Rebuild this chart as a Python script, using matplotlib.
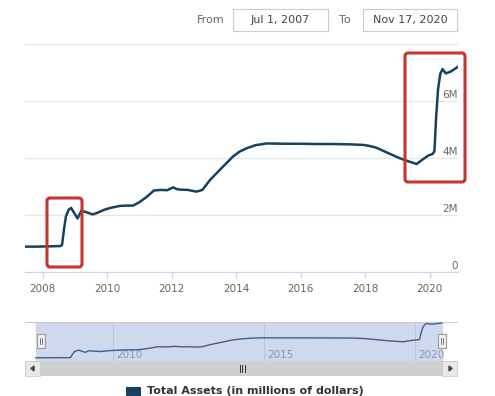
import matplotlib
matplotlib.use("Agg")
import matplotlib.pyplot as plt
from matplotlib.patches import Rectangle, FancyBboxPatch

# ---- data (decimal year, total assets in millions of millions = "M") ----
years = [2007.45, 2007.80, 2008.20, 2008.55, 2008.60, 2008.66, 2008.72, 2008.80,
         2008.88, 2008.96, 2009.08, 2009.20, 2009.35, 2009.55, 2009.70, 2009.90,
         2010.10, 2010.40, 2010.60, 2010.80, 2011.00, 2011.23, 2011.45, 2011.65,
         2011.86, 2011.95, 2012.05, 2012.15, 2012.27, 2012.50, 2012.77, 2012.95,
         2013.19, 2013.55, 2013.90, 2014.10, 2014.32, 2014.60, 2014.95, 2015.50,
         2016.00, 2016.50, 2017.00, 2017.50, 2017.94, 2018.15, 2018.35, 2018.70,
         2019.08, 2019.35, 2019.60, 2019.75, 2019.95, 2020.10, 2020.15, 2020.20,
         2020.26, 2020.33, 2020.40, 2020.50, 2020.65, 2020.88]
assets = [0.89, 0.89, 0.90, 0.91, 0.95, 1.50, 1.95, 2.18,
          2.25, 2.10, 1.88, 2.15, 2.10, 2.02, 2.08, 2.18,
          2.25, 2.32, 2.33, 2.33, 2.45, 2.64, 2.86, 2.88,
          2.87, 2.92, 2.97, 2.91, 2.89, 2.88, 2.82, 2.88,
          3.23, 3.65, 4.05, 4.22, 4.34, 4.45, 4.51, 4.50,
          4.50, 4.49, 4.49, 4.48, 4.46, 4.42, 4.36, 4.18,
          3.99, 3.88, 3.79, 3.92, 4.08, 4.15, 4.25, 5.40,
          6.40, 6.95, 7.12, 6.97, 7.03, 7.20]
y_ticks = [0, 2, 4, 6]
y_tick_labels = ["0", "2M", "4M", "6M"]
x_ticks = [2008, 2010, 2012, 2014, 2016, 2018, 2020]
nav_ticks = [2010, 2015, 2020]
series_name = "Total Assets (in millions of dollars)"
from_date = "Jul 1, 2007"
to_date = "Nov 17, 2020"

W, H = 495, 396
LINE = "#17415f"
fig = plt.figure(figsize=(W / 100, H / 100), dpi=100)


def rect(x0, y0, x1, y1):
    return [x0 / W, 1 - y1 / H, (x1 - x0) / W, (y1 - y0) / H]


# ---- main chart ----
ax = fig.add_axes(rect(25, 44, 458, 272))
ax.plot(years, assets, color=LINE, lw=1.8, solid_joinstyle="round", zorder=3)
ax.set_xlim(2007.45, 2020.88)
ax.set_ylim(0, 8)
ax.set_yticks([0, 2, 4, 6, 8])
ax.yaxis.grid(True, color="#e6e6e6", lw=1)
ax.tick_params(axis="y", length=0, labelleft=False)
for s in ["top", "left", "right"]:
    ax.spines[s].set_visible(False)
ax.spines["bottom"].set_color("#ccd6eb")
ax.set_xticks(x_ticks)
ax.set_xticklabels([str(t) for t in x_ticks])
ax.tick_params(axis="x", colors="#ccd6eb", length=4, width=1, labelcolor="#666666",
               labelsize=7.5, pad=4.5)
for v, lab in zip(y_ticks, y_tick_labels):
    ax.annotate(lab, xy=(1, v), xycoords=("axes fraction", "data"),
                xytext=(0, 0.5), textcoords="offset points", ha="right", va="bottom",
                fontsize=7.5, color="#666666")

# ---- navigator ----
nav = fig.add_axes(rect(25, 322, 457, 361))
nav.set_xlim(2007.09, 2021.39)
nav.set_ylim(0.3, 7.38)
nav.axvspan(years[0], years[-1], color="#cfd9ee", zorder=0)
for t in nav_ticks:
    nav.axvline(t, color="#b9c4dc", lw=0.8, zorder=1)
    nav.text(t + 0.12, 0.45, str(t), fontsize=7.5, color="#8a98b0", va="bottom", ha="left")
nav.plot(years, assets, color="#3f5f8a", lw=1.0, zorder=3)
nav.set_xticks([])
nav.set_yticks([])
for s in ["left", "right", "bottom"]:
    nav.spines[s].set_visible(False)
nav.spines["top"].set_color("#cccccc")

# ---- overlay in pixel coordinates ----
ov = fig.add_axes([0, 0, 1, 1], zorder=10)
ov.set_xlim(0, W)
ov.set_ylim(H, 0)
ov.axis("off")
ov.patch.set_alpha(0)

# header
ov.text(197, 20, "From", fontsize=8, color="#666666", va="center", ha="left")
ov.add_patch(Rectangle((233, 9), 95, 22, facecolor="white", edgecolor="#cccccc", lw=0.8))
ov.text(280.5, 20, from_date, fontsize=8, color="#444444", va="center", ha="center")
ov.text(339, 20, "To", fontsize=8, color="#666666", va="center", ha="left")
ov.add_patch(Rectangle((363, 9), 94, 22, facecolor="white", edgecolor="#cccccc", lw=0.8))
ov.text(410, 20, to_date, fontsize=8, color="#444444", va="center", ha="center")

# red highlight boxes
for (x0, y0, x1, y1) in [(47, 198, 82, 267), (405, 53, 465, 182)]:
    ov.add_patch(FancyBboxPatch((x0, y0), x1 - x0, y1 - y0,
                                boxstyle="round,pad=0,rounding_size=3",
                                facecolor="none", edgecolor="#c8352e", lw=2.2))

# navigator handles
for hx in (36.5, 438):
    ov.add_patch(Rectangle((hx, 334), 8, 14, facecolor="#f2f2f2", edgecolor="#999999", lw=0.8))
    ov.plot([hx + 3, hx + 3], [338, 344], color="#666666", lw=0.6)
    ov.plot([hx + 5, hx + 5], [338, 344], color="#666666", lw=0.6)

# scrollbar
ov.add_patch(Rectangle((25, 361), 432, 15, facecolor="#cfcfcf", edgecolor="none"))
ov.add_patch(Rectangle((25, 361), 15, 15, facecolor="#e8e8e8", edgecolor="#cccccc", lw=0.6))
ov.add_patch(Rectangle((442, 361), 15, 15, facecolor="#e8e8e8", edgecolor="#cccccc", lw=0.6))
ov.fill([31, 34, 34], [368.5, 366, 371], color="#444444")
ov.fill([452, 449, 449], [368.5, 366, 371], color="#444444")
for gx in (239.5, 242, 244.5):
    ov.plot([gx, gx], [365, 372], color="#333333", lw=0.7)

# legend at the bottom edge
ov.add_patch(Rectangle((126, 387), 15, 10, facecolor=LINE, edgecolor="none"))
ov.text(147, 395.5, series_name, fontsize=8, fontweight="bold", color="#333333",
        va="bottom", ha="left")

fig.savefig("out.png", dpi=100)
